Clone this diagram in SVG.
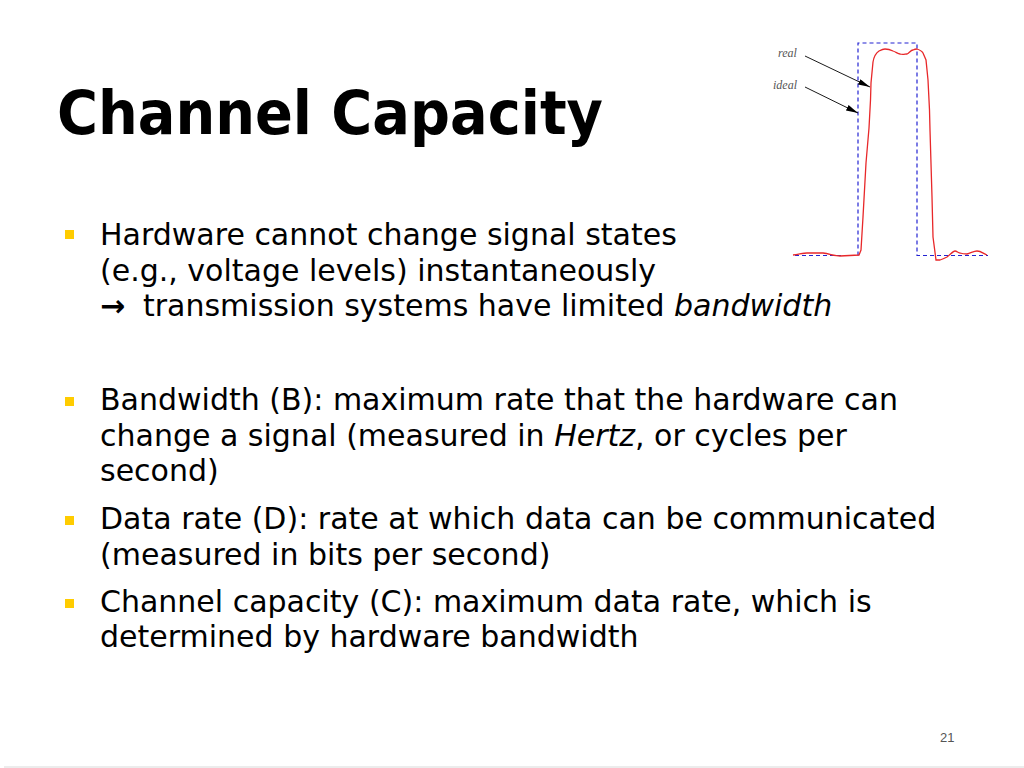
<svg xmlns="http://www.w3.org/2000/svg" width="1024" height="768" viewBox="0 0 1024 768">
<style>
.body{font-family:"DejaVu Sans","Verdana",sans-serif;font-size:30px;fill:#000}
.lbl{font-family:"Liberation Serif","Times New Roman",serif;font-style:italic;font-size:12px;fill:#555}
.bullet{fill:#FFCC00}
</style>
<defs>
<marker id="ah" viewBox="0 0 12 6" refX="12" refY="3" markerWidth="12" markerHeight="6" markerUnits="userSpaceOnUse" orient="auto">
<path d="M0,0 L12,3 L0,6 Z" fill="#000"/>
</marker>
</defs>
<rect width="1024" height="768" fill="#fff"/>
<g id="title">
<text x="57" y="134" font-family="DejaVu Sans, Verdana, sans-serif" font-weight="bold" font-size="60" textLength="546" lengthAdjust="spacingAndGlyphs">Channel Capacity</text>
</g>
<g id="bullets">
<rect class="bullet" x="65" y="230" width="9" height="9"/>
<rect class="bullet" x="65" y="397" width="9" height="9"/>
<rect class="bullet" x="65" y="516" width="9" height="9"/>
<rect class="bullet" x="65" y="599" width="9" height="9"/>
</g>
<g id="text">
<text class="body" x="100" y="245">Hardware cannot change signal states</text>
<text class="body" x="100" y="281">(e.g., voltage levels) instantaneously</text>
<text class="body" x="100" y="316"><tspan font-weight="bold">→</tspan><tspan x="143">transmission systems have limited </tspan><tspan font-style="italic">bandwidth</tspan></text>
<text class="body" x="100" y="410">Bandwidth (B): maximum rate that the hardware can</text>
<text class="body" x="100" y="446">change a signal (measured in <tspan font-style="italic">Hertz</tspan>, or cycles per</text>
<text class="body" x="100" y="481">second)</text>
<text class="body" x="100" y="529">Data rate (D): rate at which data can be communicated</text>
<text class="body" x="100" y="565">(measured in bits per second)</text>
<text class="body" x="100" y="612">Channel capacity (C): maximum data rate, which is</text>
<text class="body" x="100" y="647">determined by hardware bandwidth</text>
</g>
<g id="waveform">
<path d="M795,255.5 L858,255.5 L858,43 L917,43 L917,255.5 L988,255.5" fill="none" stroke="#2323d2" stroke-width="1.2" stroke-dasharray="4,3"/>
<path d="M793,255 C800,254 804,253 807,253 C813,253 818,253 823,253 C830,254 835,256 840,256 L859,255 L861,250 L863,217 L866,163 L869,128 L870.5,100 L871,83 L873,62 C874,56 876,53 879,51 C881,50 883,49 885,49 C889,49 891,50 893,51 C896,52 898,54 900,54 C903,55 905,54 907,54 C909,53 911,50 913,50 C915,49 916,49 917,49 C920,50 922,51 923,53 L926,60 L928,80 L929.5,110 L930,130 L932,197 L933,237 L936,260 L940,260 C943,259 945,258 947,257 C950,255 953,251 955,251 C957,251 958,253 960,253 C963,254 965,254 967,254 C971,253 974,251 977,251 C981,251 984,254 987,255" fill="none" stroke="#e8282a" stroke-width="1.3"/>
</g>
<g id="labels">
<text class="lbl" x="778" y="57">real</text>
<text class="lbl" x="773" y="89">ideal</text>
</g>
<g id="connectors">
<line x1="805" y1="56" x2="870" y2="87" stroke="#000" stroke-width="0.9" marker-end="url(#ah)"/>
<line x1="805" y1="87" x2="858" y2="113" stroke="#000" stroke-width="0.9" marker-end="url(#ah)"/>
</g>
<g id="footer">
<text x="940" y="742" font-family="Liberation Sans, Arial, sans-serif" font-size="13" fill="#555">21</text>
<rect x="4" y="766" width="1020" height="2" fill="#ececec"/>
</g>
</svg>
